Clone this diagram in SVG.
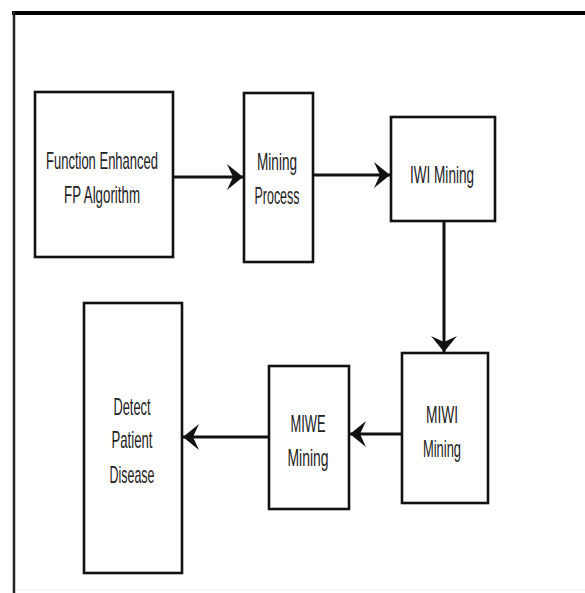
<svg xmlns="http://www.w3.org/2000/svg" width="585" height="593" viewBox="0 0 585 593">
<style>
.box{fill:#fff;stroke:#111;stroke-width:2.6}
.lbl{font-family:"Liberation Sans",Arial,sans-serif;font-size:24px;fill:#222;text-anchor:middle}
.con{stroke:#111;stroke-width:3;fill:none}
</style>
<defs>
<marker id="ah" markerUnits="userSpaceOnUse" viewBox="-17 -15 19 30" refX="0" refY="0" markerWidth="19" markerHeight="30" orient="auto">
<path d="M0,0 L-16,-13 L-10,0 L-16,13 Z" fill="#111"/>
</marker>
</defs>
<rect width="585" height="593" fill="#fff"/>
<g id="frame">
<line x1="12" y1="13" x2="585" y2="13" stroke="#000" stroke-width="4"/>
<line x1="14" y1="11" x2="14" y2="593" stroke="#222" stroke-width="2.5"/>
<line x1="15" y1="590" x2="585" y2="590" stroke="#eee" stroke-width="1"/>
</g>
<g id="connectors">
<line class="con" x1="173" y1="177" x2="243" y2="177" marker-end="url(#ah)"/>
<line class="con" x1="313" y1="175" x2="390" y2="175" marker-end="url(#ah)"/>
<line class="con" x1="444" y1="221" x2="444" y2="352" marker-end="url(#ah)"/>
<line class="con" x1="402" y1="434" x2="350" y2="434" marker-end="url(#ah)"/>
<line class="con" x1="269" y1="437" x2="183" y2="437" marker-end="url(#ah)"/>
</g>
<g id="node-fp">
<rect class="box" x="35" y="92" width="138" height="165"/>
<text class="lbl" x="102" y="169" textLength="112" lengthAdjust="spacingAndGlyphs">Function Enhanced</text>
<text class="lbl" x="102" y="203" textLength="76" lengthAdjust="spacingAndGlyphs">FP Algorithm</text>
</g>
<g id="node-mining-process">
<rect class="box" x="244" y="93" width="69" height="169"/>
<text class="lbl" x="277" y="170" textLength="40" lengthAdjust="spacingAndGlyphs">Mining</text>
<text class="lbl" x="277" y="204" textLength="45" lengthAdjust="spacingAndGlyphs">Process</text>
</g>
<g id="node-iwi">
<rect class="box" x="391" y="117" width="104" height="104"/>
<text class="lbl" x="442" y="183" textLength="64" lengthAdjust="spacingAndGlyphs">IWI Mining</text>
</g>
<g id="node-miwi">
<rect class="box" x="402" y="353" width="86" height="150"/>
<text class="lbl" x="442" y="423" textLength="32" lengthAdjust="spacingAndGlyphs">MIWI</text>
<text class="lbl" x="442" y="457" textLength="38" lengthAdjust="spacingAndGlyphs">Mining</text>
</g>
<g id="node-miwe">
<rect class="box" x="269" y="366" width="80" height="143"/>
<text class="lbl" x="308" y="432" textLength="35" lengthAdjust="spacingAndGlyphs">MIWE</text>
<text class="lbl" x="308" y="466" textLength="41" lengthAdjust="spacingAndGlyphs">Mining</text>
</g>
<g id="node-detect">
<rect class="box" x="84" y="303" width="98" height="270"/>
<text class="lbl" x="132" y="415" textLength="37" lengthAdjust="spacingAndGlyphs">Detect</text>
<text class="lbl" x="132" y="448" textLength="41" lengthAdjust="spacingAndGlyphs">Patient</text>
<text class="lbl" x="132" y="483" textLength="45" lengthAdjust="spacingAndGlyphs">Disease</text>
</g>
</svg>
